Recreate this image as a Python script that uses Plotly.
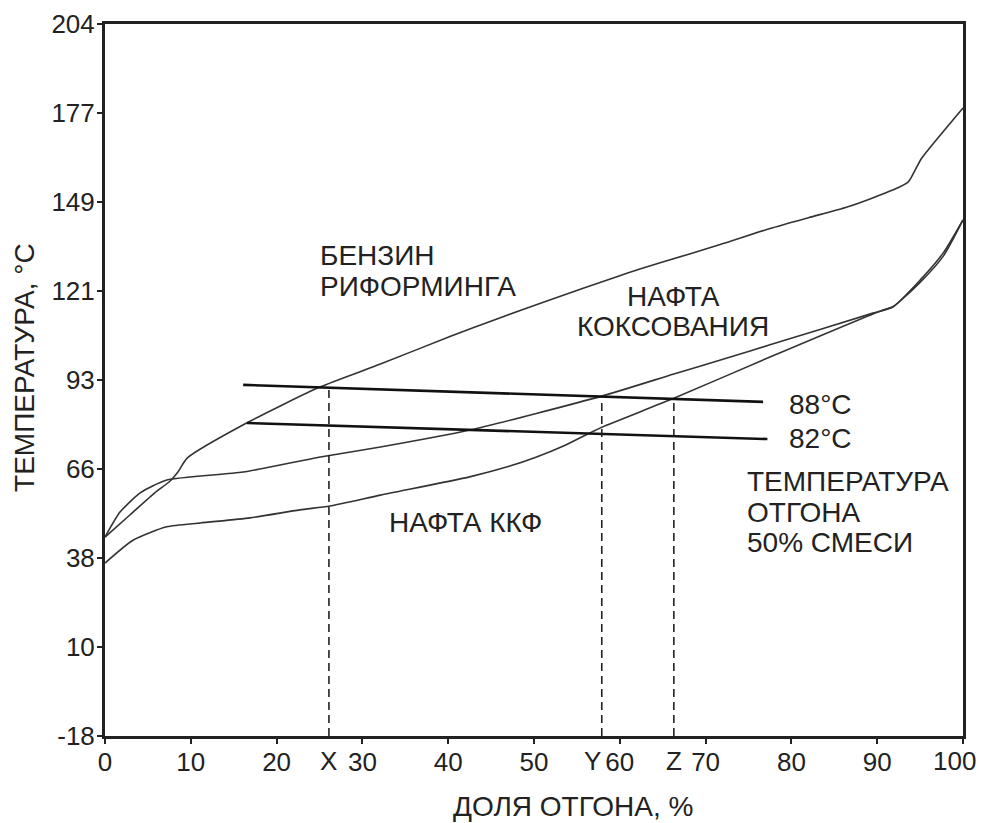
import plotly.graph_objects as go

# ---- data (distillation curves, % distilled vs temperature °C) ----
reformate_x = [0, 2.9, 5.8, 7.6, 8.5, 9.6, 16.5, 25.1, 32.1, 40.2, 46.0, 51.5, 60.0, 64.7, 71.7, 77.5, 82.0, 86.5, 91.8, 93.6, 94.6, 95.2, 100]
reformate_t = [44.3, 51.2, 58.1, 61.8, 64.6, 69.0, 79.9, 91.2, 98.3, 106.9, 112.7, 118.0, 125.9, 129.9, 135.6, 140.6, 144.0, 147.3, 152.6, 155.1, 159.8, 162.6, 178.2]

coking_x = [0, 1.75, 4.1, 7.2, 16.1, 25.1, 32.1, 42.5, 57.9, 66.3, 72.5, 77.5, 89.5, 91.8, 95.0, 97.7, 100]
coking_t = [44.3, 52.1, 58.1, 62.1, 64.6, 69.3, 72.4, 77.7, 88.3, 95.2, 100.2, 104.3, 114.2, 116.1, 124.5, 133.0, 143.3]

fcc_x = [0, 3.3, 7.2, 11.1, 16.9, 22.7, 26.2, 32.1, 42.5, 47.0, 50.3, 53.5, 56.2, 57.9, 66.3, 77.5, 90.7, 91.8, 95.0, 97.7, 100]
fcc_t = [36.2, 43.4, 47.5, 48.7, 50.3, 52.8, 54.0, 57.4, 63.1, 66.3, 69.3, 72.8, 76.4, 78.6, 87.6, 100.5, 115.2, 116.1, 123.8, 132.0, 143.3]

# 50% blend temperature lines
line88_x = [16.1, 76.7]
line88_t = [91.8, 86.5]
line82_x = [16.55, 77.2]
line82_t = [79.9, 74.9]

# vertical dashed markers X, Y, Z
marker_names = ["X", "Y", "Z"]
marker_x = [26.1, 57.9, 66.3]
marker_top = [90.9, 88.1, 87.4]
marker_label_x = [26.1, 56.8, 66.3]

# axis ticks
x_tickvals = [0, 10, 20, 30, 40, 50, 60, 70, 80, 90, 100]
x_ticktext = ["0", "10", "20", "30", "40", "50", "60", "70", "80", "90", "100"]
y_tickvals = [-17.78, 10.0, 37.78, 65.56, 93.33, 121.11, 148.89, 176.67, 204.44]
y_ticktext = ["-18", "10", "38", "66", "93", "121", "149", "177", "204"]

FONT = "Liberation Sans, Arial, sans-serif"
INK = "#222222"
CURVE = "#333333"

fig = go.Figure()

for xs, ts in [(reformate_x, reformate_t), (coking_x, coking_t), (fcc_x, fcc_t)]:
    fig.add_trace(go.Scatter(x=xs, y=ts, mode="lines",
                             line=dict(color=CURVE, width=1.6, shape="spline", smoothing=0.6),
                             showlegend=False, hoverinfo="skip"))

for xs, ts in [(line88_x, line88_t), (line82_x, line82_t)]:
    fig.add_trace(go.Scatter(x=xs, y=ts, mode="lines",
                             line=dict(color="#111111", width=2.6),
                             showlegend=False, hoverinfo="skip"))

for mx, mt in zip(marker_x, marker_top):
    fig.add_trace(go.Scatter(x=[mx, mx], y=[y_tickvals[0], mt], mode="lines",
                             line=dict(color=INK, width=1.6, dash="8px,5px"),
                             showlegend=False, hoverinfo="skip"))

annotations = []
# X, Y, Z labels under the axis
for name, lx in zip(marker_names, marker_label_x):
    annotations.append(dict(x=lx, y=0, xref="x", yref="paper", text=name, showarrow=False,
                            xanchor="center", yanchor="top", yshift=-8,
                            font=dict(family=FONT, size=26, color=INK)))

# last x tick label, kept inside the picture (right-aligned like the reference)
tick_text_shown = x_ticktext[:-1] + [""]
annotations.append(dict(x=x_tickvals[-1], y=0, xref="x", yref="paper", text=x_ticktext[-1],
                        showarrow=False, xanchor="right", yanchor="top", yshift=-8, xshift=15,
                        font=dict(family=FONT, size=26, color=INK)))

text_items = [
    ("БЕНЗИН", 24.8, 132.3, "left"),
    ("РИФОРМИНГА", 24.8, 122.4, "left"),
    ("НАФТА", 66.2, 119.5, "center"),
    ("КОКСОВАНИЯ", 66.2, 109.9, "center"),
    ("НАФТА ККФ", 32.9, 49.0, "left"),
    ("88°C", 79.5, 85.8, "left"),
    ("82°C", 79.5, 75.2, "left"),
    ("ТЕМПЕРАТУРА", 74.6, 61.8, "left"),
    ("ОТГОНА", 74.6, 52.1, "left"),
    ("50% СМЕСИ", 74.6, 42.5, "left"),
]
for txt, tx, ty, anchor in text_items:
    annotations.append(dict(x=tx, y=ty, xref="x", yref="y", text=txt, showarrow=False,
                            xanchor=anchor, yanchor="middle",
                            font=dict(family=FONT, size=28, color=INK)))

# axis titles
annotations.append(dict(x=0.545, y=-0.0997, xref="paper", yref="paper",
                        text="ДОЛЯ ОТГОНА, %", showarrow=False,
                        xanchor="center", yanchor="middle",
                        font=dict(family=FONT, size=28, color=INK)))
annotations.append(dict(x=-0.0932, y=0.517, xref="paper", yref="paper",
                        text="ТЕМПЕРАТУРА, °C", showarrow=False, textangle=-90,
                        xanchor="center", yanchor="middle",
                        font=dict(family=FONT, size=28, color=INK)))

fig.update_layout(
    width=983, height=823,
    margin=dict(l=105, r=20, t=24, b=87, autoexpand=False),
    paper_bgcolor="white", plot_bgcolor="white",
    annotations=annotations,
    showlegend=False,
)
fig.update_xaxes(range=[0, 100], tickvals=x_tickvals, ticktext=tick_text_shown,
                 showgrid=False, zeroline=False, showline=True, linecolor=INK, linewidth=3,
                 mirror=True, ticks="outside", ticklen=5, tickwidth=2, tickcolor=INK,
                 ticklabelstandoff=-4, ticklabeloverflow="allow",
                 tickfont=dict(family=FONT, size=26, color=INK))
fig.update_yaxes(range=[-17.78, 204.44], tickvals=y_tickvals, ticktext=y_ticktext,
                 showgrid=False, zeroline=False, showline=True, linecolor=INK, linewidth=3,
                 mirror=True, ticks="outside", ticklen=5, tickwidth=2, tickcolor=INK,
                 ticklabelstandoff=-3, ticklabeloverflow="allow",
                 tickfont=dict(family=FONT, size=26, color=INK))

fig.write_html("out.html", config={"displayModeBar": False},
               post_script="document.body.style.margin='0';document.body.style.overflow='hidden';")
